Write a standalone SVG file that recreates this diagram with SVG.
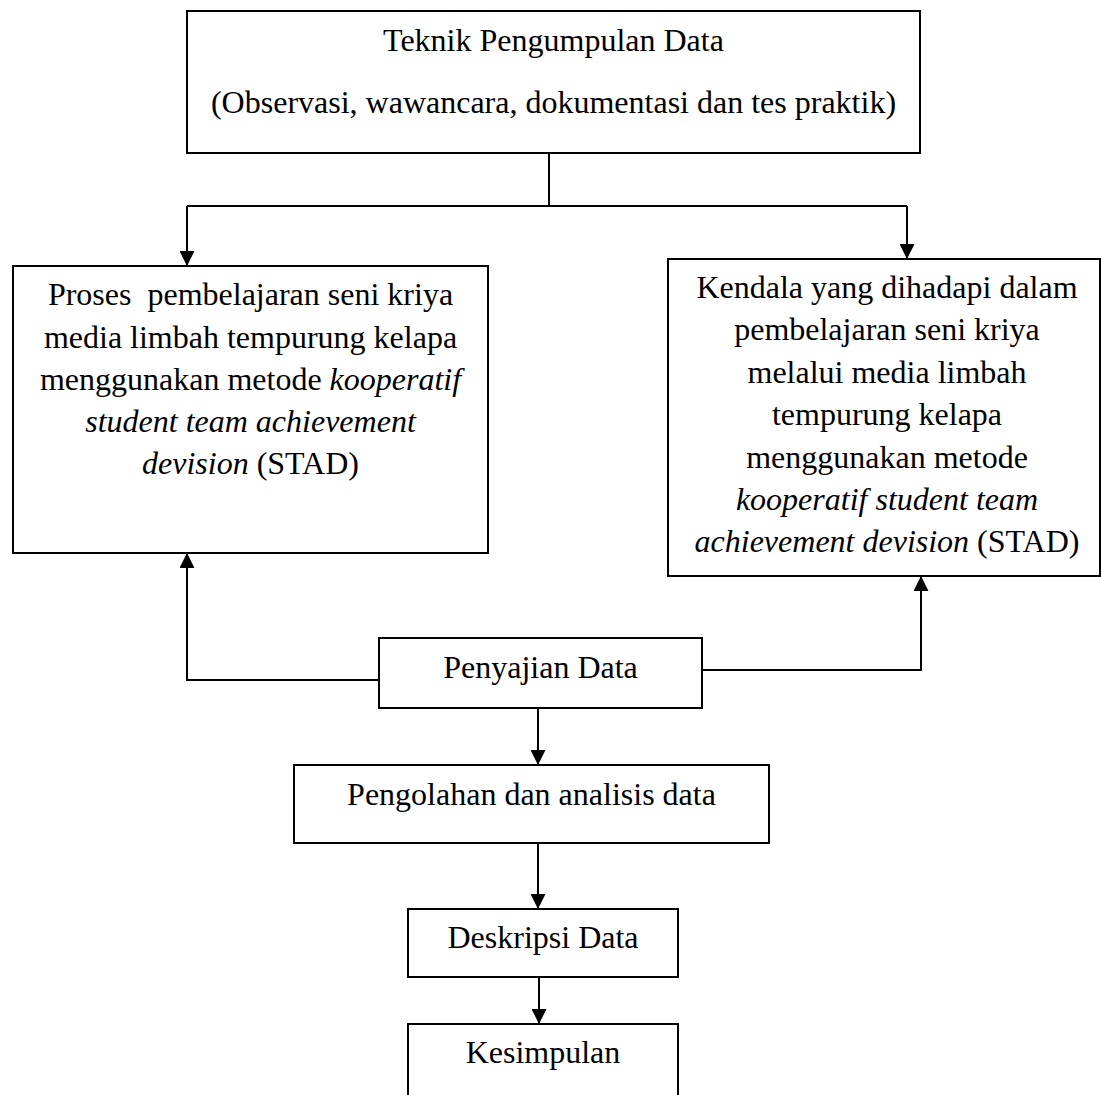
<svg xmlns="http://www.w3.org/2000/svg" width="1101" height="1095" viewBox="0 0 1101 1095">
<style>
.box{fill:#fff;stroke:#000;stroke-width:2}
.t{font-family:"Liberation Serif","Times New Roman",serif;font-size:32px;fill:#000;text-anchor:middle;white-space:pre}
.i{font-style:italic}
.c{fill:none;stroke:#000;stroke-width:2}
</style>
<defs>
<marker id="ah" markerUnits="userSpaceOnUse" markerWidth="15" markerHeight="15" refX="15" refY="7.5" orient="auto">
<path d="M0,0 L15,7.5 L0,15 z" fill="#000"/>
</marker>
</defs>
<rect width="1101" height="1095" fill="#fff"/>
<g id="connectors">
<polyline class="c" points="549,153 549,206"/>
<polyline class="c" points="187,206 907,206"/>
<polyline class="c" points="187,206 187,266" marker-end="url(#ah)"/>
<polyline class="c" points="907,206 907,259" marker-end="url(#ah)"/>
<polyline class="c" points="379,680 187,680 187,553" marker-end="url(#ah)"/>
<polyline class="c" points="702,670 921,670 921,576" marker-end="url(#ah)"/>
<polyline class="c" points="538,708 538,765" marker-end="url(#ah)"/>
<polyline class="c" points="538,843 538,909" marker-end="url(#ah)"/>
<polyline class="c" points="539,977 539,1024" marker-end="url(#ah)"/>
</g>
<g id="teknik">
<rect class="box" x="187" y="11" width="733" height="142"/>
<text class="t" x="553.5" y="51">Teknik Pengumpulan Data</text>
<text class="t" x="553.5" y="113">(Observasi, wawancara, dokumentasi dan tes praktik)</text>
</g>
<g id="proses">
<rect class="box" x="13" y="266" width="475" height="287"/>
<text class="t" x="250.5" y="305">Proses  pembelajaran seni kriya</text>
<text class="t" x="250.5" y="348">media limbah tempurung kelapa</text>
<text class="t" x="250.5" y="390">menggunakan metode <tspan class="i">kooperatif</tspan></text>
<text class="t i" x="250.5" y="432">student team achievement</text>
<text class="t" x="250.5" y="474"><tspan class="i">devision</tspan> (STAD)</text>
</g>
<g id="kendala">
<rect class="box" x="668" y="259" width="432" height="317"/>
<text class="t" x="887" y="298">Kendala yang dihadapi dalam</text>
<text class="t" x="887" y="340">pembelajaran seni kriya</text>
<text class="t" x="887" y="383">melalui media limbah</text>
<text class="t" x="887" y="425">tempurung kelapa</text>
<text class="t" x="887" y="468">menggunakan metode</text>
<text class="t i" x="887" y="510">kooperatif student team</text>
<text class="t" x="887" y="552"><tspan class="i">achievement devision</tspan> (STAD)</text>
</g>
<g id="penyajian">
<rect class="box" x="379" y="638" width="323" height="70"/>
<text class="t" x="540.5" y="678">Penyajian Data</text>
</g>
<g id="pengolahan">
<rect class="box" x="294" y="765" width="475" height="78"/>
<text class="t" x="531.5" y="805">Pengolahan dan analisis data</text>
</g>
<g id="deskripsi">
<rect class="box" x="408" y="909" width="270" height="68"/>
<text class="t" x="543" y="948">Deskripsi Data</text>
</g>
<g id="kesimpulan">
<rect class="box" x="408" y="1024" width="270" height="90"/>
<text class="t" x="543" y="1063">Kesimpulan</text>
</g>
</svg>
